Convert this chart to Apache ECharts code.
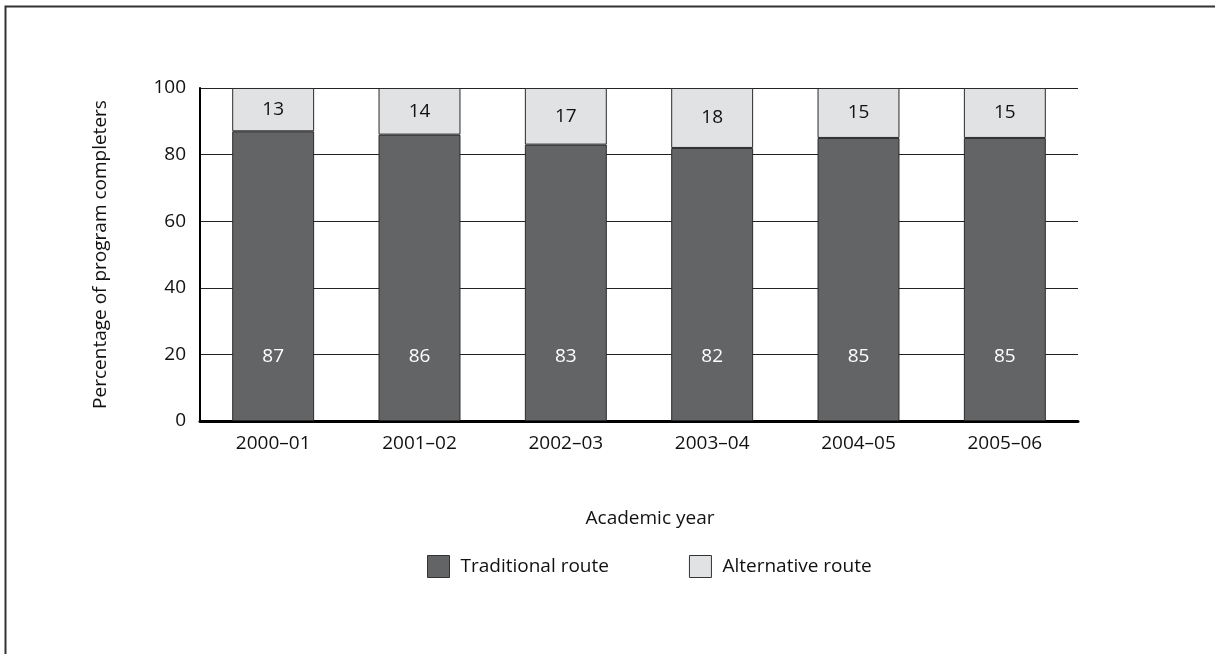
<!DOCTYPE html>
<html>
<head>
<meta charset="utf-8">
<script src="https://cdn.jsdelivr.net/npm/echarts@6/dist/echarts.min.js"></script>
<style>html,body{margin:0;padding:0;background:#fff}#c{width:1215px;height:654px}</style>
</head>
<body>
<div id="c"></div>
<script>
const categories = ['2000–01', '2001–02', '2002–03', '2003–04', '2004–05', '2005–06'];
const traditional = [87, 86, 83, 82, 85, 85];
const alternative = [13, 14, 17, 18, 15, 15];
const yTicks = [0, 20, 40, 60, 80, 100];

const FONT = 'Open Sans';
const FS = 19;
const chart = echarts.init(document.getElementById('c'), null, {renderer: 'canvas'});
chart.setOption({
  animation: false,
  backgroundColor: '#fff',
  textStyle: {fontFamily: FONT, color: '#111'},
  graphic: [{
    type: 'polyline',
    shape: {points: [[5.5, 660], [5.5, 6.5], [1220, 6.5]]},
    style: {stroke: '#333', lineWidth: 2, fill: null},
    silent: true
  }],
  grid: {left: 200, right: 137, top: 88, bottom: 233, containLabel: false},
  legend: {
    left: 422, top: 550,
    itemWidth: 22, itemHeight: 22, itemGap: 80,
    icon: 'rect',
    textStyle: {fontFamily: FONT, fontSize: FS, color: '#111', padding: [0, 0, 0, 6]},
    data: [
      {name: 'Traditional route', itemStyle: {color: '#636466', borderColor: '#333', borderWidth: 1}},
      {name: 'Alternative route', itemStyle: {color: '#e1e2e3', borderColor: '#333', borderWidth: 1}}
    ]
  },
  xAxis: {
    type: 'category',
    data: categories,
    name: 'Academic year',
    nameLocation: 'middle',
    nameGap: 88,
    nameTextStyle: {fontFamily: FONT, fontSize: FS, color: '#111', padding: [0, 0, 0, 22]},
    axisLine: {show: true, lineStyle: {color: '#000', width: 3}},
    axisTick: {show: false},
    axisLabel: {fontFamily: FONT, fontSize: FS, color: '#111', margin: 13}
  },
  yAxis: {
    type: 'value',
    min: 0, max: 100, interval: 20,
    name: 'Percentage of program completers',
    nameLocation: 'middle',
    nameGap: 90,
    nameTextStyle: {fontFamily: FONT, fontSize: FS, color: '#111'},
    axisLine: {show: true, lineStyle: {color: '#000', width: 2}},
    axisTick: {show: false},
    splitLine: {show: true, lineStyle: {color: '#222', width: 1}},
    axisLabel: {
      fontFamily: FONT, fontSize: FS, color: '#111', margin: 14,
      formatter: v => (yTicks.indexOf(v) >= 0 ? String(v) : '')
    }
  },
  series: [
    {
      name: 'Traditional route', type: 'bar', stack: 'total',
      barWidth: '56%',
      data: traditional,
      itemStyle: {color: '#636466', borderColor: '#2a2a2a', borderWidth: 1},
      label: {show: true, position: 'insideBottom', distance: 55, color: '#fff', fontFamily: FONT, fontSize: FS}
    },
    {
      name: 'Alternative route', type: 'bar', stack: 'total',
      barWidth: '56%',
      data: alternative,
      itemStyle: {color: '#e1e2e3', borderColor: '#2a2a2a', borderWidth: 1},
      label: {show: true, position: 'inside', color: '#111', fontFamily: FONT, fontSize: FS}
    }
  ]
});
</script>
</body>
</html>
